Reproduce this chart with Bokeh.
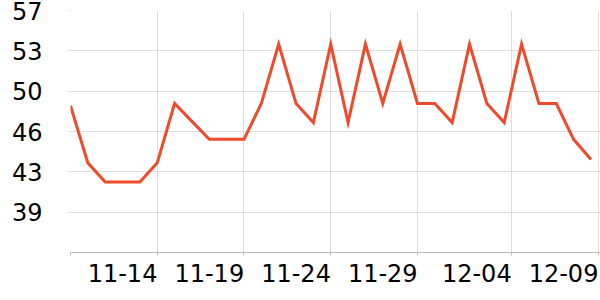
from bokeh.plotting import figure
from bokeh.models import ColumnDataSource, FixedTicker, Range1d
from bokeh.embed import file_html
from bokeh.resources import INLINE

# ---- data ----
dates = ["11-09", "11-10", "11-11", "11-12", "11-13", "11-14", "11-15", "11-16",
         "11-17", "11-18", "11-19", "11-20", "11-21", "11-22", "11-23", "11-24",
         "11-25", "11-26", "11-27", "11-28", "11-29", "11-30", "12-01", "12-02",
         "12-03", "12-04", "12-05", "12-06", "12-07", "12-08", "12-09"]
values = [48.5, 43.4, 41.7, 41.7, 41.7, 43.4, 48.7, 47.1,
          45.5, 45.5, 45.5, 48.7, 54.0, 48.7, 47.0, 54.0,
          47.0, 54.0, 48.7, 54.0, 48.7, 48.7, 47.0, 54.0,
          48.7, 47.0, 54.0, 48.7, 48.7, 45.5, 43.7]
x_tick_labels = ["11-14", "11-19", "11-24", "11-29", "12-04", "12-09"]
y_ticks = [39, 42.6, 46.2, 49.8, 53.4, 57]
y_tick_labels = ["39", "43", "46", "50", "53", "57"]

# ---- layout constants ----
grid_ticks = [0, 5, 10, 15, 20, 25.42, 30.42]
label_shift = 2.0
label_ticks = [g - label_shift for g in grid_ticks[1:]]

src = ColumnDataSource(data=dict(x=list(range(len(dates))), y=values, date=dates))

p = figure(width=600, height=300, output_backend="svg", toolbar_location=None,
           x_range=Range1d(0, 30.55), y_range=Range1d(35.4, 57),
           min_border_left=70, min_border_right=0, min_border_top=10,
           min_border_bottom=48)
p.outline_line_color = None
p.background_fill_color = "white"
p.border_fill_color = "white"

p.line("x", "y", source=src, line_color="#ef4a2c", line_width=3, line_join="miter")

FONT = "DejaVu Sans"
GRID = "#dddddd"

xa = p.xaxis[0]
xa.ticker = FixedTicker(ticks=label_ticks, minor_ticks=grid_ticks)
xa.major_label_overrides = {t: l for t, l in zip(label_ticks, x_tick_labels)}
xa.major_tick_line_color = None
xa.major_tick_in = 0
xa.major_tick_out = 0
xa.minor_tick_line_color = "#bbbbbb"
xa.minor_tick_in = 0
xa.minor_tick_out = 3
xa.axis_line_color = "#bbbbbb"
xa.major_label_text_font = FONT
xa.major_label_text_font_size = "24px"
xa.major_label_text_color = "#000000"
xa.major_label_standoff = 8

ya = p.yaxis[0]
ya.ticker = FixedTicker(ticks=y_ticks)
ya.major_label_overrides = {t: l for t, l in zip(y_ticks, y_tick_labels)}
ya.axis_line_color = None
ya.major_tick_line_color = GRID
ya.major_tick_in = 0
ya.major_tick_out = 2
ya.minor_tick_line_color = None
ya.major_label_text_font = FONT
ya.major_label_text_font_size = "24px"
ya.major_label_text_color = "#000000"
ya.major_label_standoff = 26

p.xgrid[0].ticker = FixedTicker(ticks=grid_ticks)
p.xgrid[0].grid_line_color = GRID
p.ygrid[0].grid_line_color = GRID

open("out.html", "w").write(file_html(p, INLINE))
